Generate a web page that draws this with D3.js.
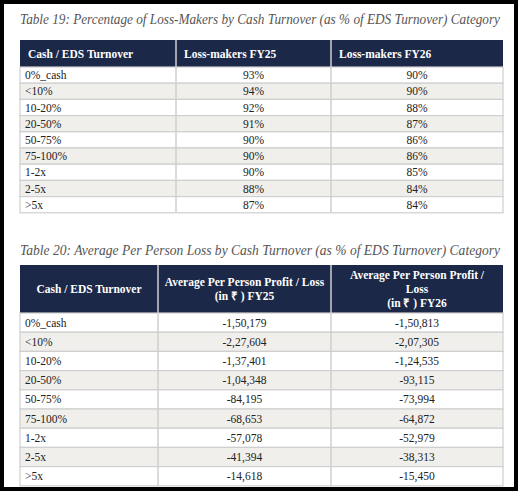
<!DOCTYPE html>
<meta charset="utf-8">
<script src="https://d3js.org/d3.v7.min.js"></script>
<style>body{margin:0;background:#000}</style>
<div id="my_dataviz"></div>
<script>
// data
var categories = ["0%_cash","<10%","10-20%","20-50%","50-75%","75-100%","1-2x","2-5x",">5x"];
var lossFY25 = [93,94,92,91,90,90,90,88,87];
var lossFY26 = [90,90,88,87,86,86,85,84,84];
var avgFY25 = [-150179,-227604,-137401,-104348,-84195,-68653,-57078,-41394,-14618];
var avgFY26 = [-150813,-207305,-124535,-93115,-73994,-64872,-52979,-38313,-15450];
var headers1 = [["Cash / EDS Turnover"],["Loss-makers FY25"],["Loss-makers FY26"]];
var headers2 = [["Cash / EDS Turnover"],["Average Per Person Profit / Loss","(in \u20B9 ) FY25"],["Average Per Person Profit /","Loss","(in \u20B9 ) FY26"]];

var W = 518, H = 491;
var svg = d3.select("#my_dataviz").append("svg").attr("width", W).attr("height", H);
svg.append("rect").attr("x",4).attr("y",4).attr("width",W-8).attr("height",H-8).attr("fill","white");

// Indian grouping: 1,50,179
function inr(v) {
  var s = String(Math.abs(v)), last3 = s.slice(-3), rest = s.slice(0,-3);
  if (rest) last3 = rest.replace(/\B(?=(\d{2})+(?!\d))/g, ",") + "," + last3;
  return (v < 0 ? "-" : "") + last3;
}

function table(g, title, titleY, top, headH, rowH, cols, heads, rows) {
  g.append("text").attr("x",20).attr("y",titleY)
    .attr("textLength",480).attr("lengthAdjust","spacingAndGlyphs")
    .style("font","italic 14.5px 'Liberation Serif'").attr("fill","#555").text(title);
  var x0 = 20, x1 = 503;
  g.append("rect").attr("x",x0).attr("y",top).attr("width",x1-x0).attr("height",headH).attr("fill","#1c2847");
  heads.forEach(function(h, i) {
    var cx = headH > 30 ? (cols[i]+cols[i+1])/2 : cols[i]+8;
    var anchor = headH > 30 ? "middle" : "start";
    var lh = 14, y0 = top + headH/2 - (h.length-1)*lh/2 + 4;
    h.forEach(function(line, k) {
      g.append("text").attr("x",cx).attr("y",y0+k*lh).attr("text-anchor",anchor)
        .style("font","bold 11.5px 'Liberation Serif'").attr("fill","white").text(line);
    });
  });
  var y = d3.scaleBand().domain(d3.range(rows.length)).range([top+headH, top+headH+rowH*rows.length]);
  rows.forEach(function(r, i) {
    g.append("rect").attr("x",x0).attr("y",y(i)).attr("width",x1-x0).attr("height",y.bandwidth())
      .attr("fill", i % 2 ? "#f1efeb" : "white").attr("stroke","#cfcfcf").attr("stroke-width",1.2);
    r.forEach(function(t, j) {
      var tx = j === 0 ? cols[0]+5 : (cols[j]+cols[j+1])/2;
      g.append("text").attr("x",tx).attr("y",y(i)+y.bandwidth()/2+4)
        .attr("text-anchor", j === 0 ? "start" : "middle")
        .style("font","11.5px 'Liberation Serif'").attr("fill","#222").text(t);
    });
  });
  cols.slice(1,-1).forEach(function(c) {
    g.append("line").attr("x1",c).attr("x2",c).attr("y1",top).attr("y2",top+headH+rowH*rows.length)
      .attr("stroke","#cfcfcf").attr("stroke-width",1.5);
  });
}

table(svg, "Table 19: Percentage of Loss-Makers by Cash Turnover (as % of EDS Turnover) Category",
  24, 40, 27, 16.2, [20,176,331,503], headers1,
  categories.map(function(c,i){ return [c, lossFY25[i]+"%", lossFY26[i]+"%"]; }));

table(svg, "Table 20: Average Per Person Loss by Cash Turnover (as % of EDS Turnover) Category",
  255, 265, 48, 19.2, [20,158,331,503], headers2,
  categories.map(function(c,i){ return [c, inr(avgFY25[i]), inr(avgFY26[i])]; }));
</script>
